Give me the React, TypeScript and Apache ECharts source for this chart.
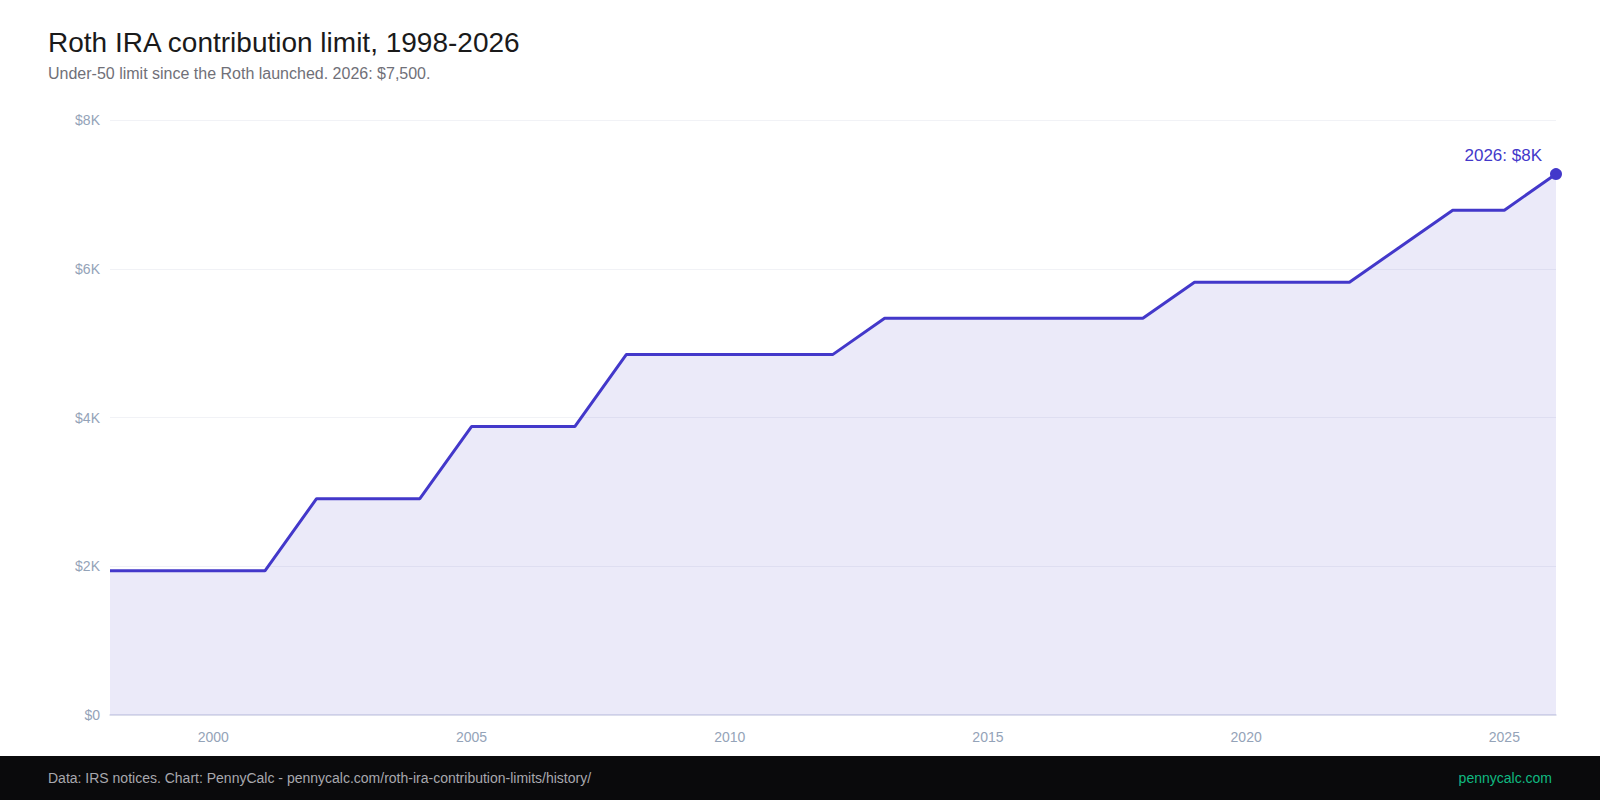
import React, { useEffect, useRef } from "react";
import * as echarts from "echarts";

const years = [1998, 1999, 2000, 2001, 2002, 2003, 2004, 2005, 2006, 2007, 2008, 2009, 2010, 2011, 2012, 2013, 2014, 2015, 2016, 2017, 2018, 2019, 2020, 2021, 2022, 2023, 2024, 2025, 2026];
const limits = [2000, 2000, 2000, 2000, 3000, 3000, 3000, 4000, 4000, 4000, 5000, 5000, 5000, 5000, 5000, 5500, 5500, 5500, 5500, 5500, 5500, 6000, 6000, 6000, 6000, 6500, 7000, 7000, 7500];
const xLabelYears = [2000, 2005, 2010, 2015, 2020, 2025];
const yMax = 8250;
const yTickCount = 4;

const TITLE = "Roth IRA contribution limit, 1998-2026";
const SUBTITLE = "Under-50 limit since the Roth launched. 2026: $7,500.";
const SOURCE = "Data: IRS notices. Chart: PennyCalc - pennycalc.com/roth-ira-contribution-limits/history/";
const BRAND = "pennycalc.com";

const FONT = "'Liberation Sans', Arial, Helvetica, sans-serif";
const LINE = "#4338ca";

function fmtK(v: number): string {
  if (v === 0) return "$0";
  return "$" + Math.round(v / 1000) + "K";
}

export default function App() {
  const ref = useRef<HTMLDivElement>(null);
  useEffect(() => {
    document.body.style.margin = "0";
    if (!ref.current) return;
    const chart = echarts.init(ref.current, null, { renderer: "svg" });
    const lastIdx = years.length - 1;
    const data = years.map((y, i) => {
      if (i === lastIdx) {
        return {
          value: [y, limits[i]],
          symbol: "circle",
          symbolSize: 12,
          itemStyle: { color: LINE },
          label: {
            show: true,
            formatter: () => `${y}: ${fmtK(limits[i])}`,
            position: [-8, -13],
            align: "right",
            verticalAlign: "middle",
            color: LINE,
            fontSize: 17,
            fontFamily: FONT,
          },
        };
      }
      return { value: [y, limits[i]], symbol: "none" };
    });
    chart.setOption({
      animation: false,
      backgroundColor: "#ffffff",
      grid: { left: 110, right: 44, top: 120, bottom: 85, containLabel: false },
      xAxis: {
        type: "value",
        min: years[0],
        max: years[lastIdx],
        interval: 1,
        axisLine: { show: true, lineStyle: { color: "#d5d7e8", width: 1.5 } },
        axisTick: { show: false },
        splitLine: { show: false },
        axisLabel: {
          color: "#94a3b8",
          fontSize: 14,
          fontFamily: FONT,
          margin: 15,
          formatter: (v: number) => (xLabelYears.includes(v) ? String(v) : ""),
        },
      },
      yAxis: {
        type: "value",
        min: 0,
        max: yMax,
        interval: yMax / yTickCount,
        axisLine: { show: false },
        axisTick: { show: false },
        splitLine: { show: true, lineStyle: { color: "#f1f2f6", width: 1 } },
        axisLabel: {
          color: "#94a3b8",
          fontSize: 14,
          fontFamily: FONT,
          margin: 10,
          formatter: (v: number) => fmtK(v),
        },
      },
      series: [
        {
          type: "line",
          data,
          showSymbol: true,
          lineStyle: { color: LINE, width: 3 },
          itemStyle: { color: LINE },
          areaStyle: { color: "rgba(67,56,202,0.105)", opacity: 1, origin: "start" },
          z: 3,
        },
      ],
      graphic: [
        {
          type: "text",
          left: 48,
          top: 28,
          style: { text: TITLE, fill: "#1a1a1a", font: `28px ${FONT}` },
        },
        {
          type: "text",
          left: 48,
          top: 65,
          style: { text: SUBTITLE, fill: "#707078", font: `16px ${FONT}` },
        },
        {
          type: "rect",
          left: 0,
          top: 756,
          shape: { width: 1600, height: 44 },
          style: { fill: "#0a0a0c" },
        },
        {
          type: "text",
          left: 48,
          top: 771,
          style: { text: SOURCE, fill: "#a8a8ae", font: `14px ${FONT}` },
        },
        {
          type: "text",
          right: 48,
          top: 771,
          style: { text: BRAND, fill: "#10b981", font: `14px ${FONT}` },
        },
      ],
    });
    return () => chart.dispose();
  }, []);
  return <div ref={ref} style={{ width: 1600, height: 800 }} />;
}
